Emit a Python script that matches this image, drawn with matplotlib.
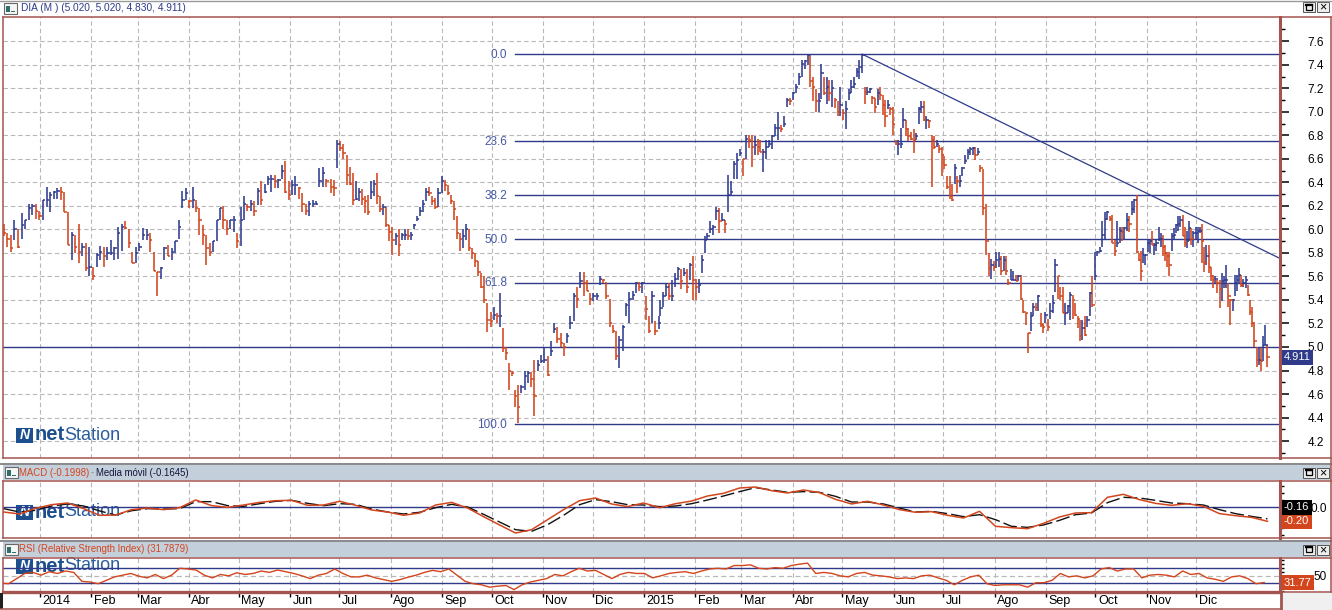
import numpy as np
import pandas as pd
import matplotlib
matplotlib.use("Agg")
import matplotlib.pyplot as plt
import matplotlib.dates as mdates
import matplotlib.transforms as mtransforms
from matplotlib.patches import Rectangle
from matplotlib.lines import Line2D

plt.rcParams['font.family'] = ['Liberation Sans', 'DejaVu Sans']

# ---------------------------------------------------------------- data
symbol = "DIA"
period = "M"
last_ohlc = (5.020, 5.020, 4.830, 4.911)

highs = [
    6.05,5.97,5.95,6.08,6.00,6.14,6.08,6.22,6.22,6.22, 6.16,6.25,6.36,6.32,6.33,6.35,6.36,6.32,6.15,5.98,
    5.95,6.05,5.88,5.88,5.85,5.68,5.80,5.86,5.85,5.85, 5.91,5.85,6.02,6.05,6.07,6.00,5.81,5.85,5.88,6.01,
    6.00,5.97,5.81,5.64,5.68,5.85,5.87,5.84,5.90,6.08, 6.33,6.35,6.25,6.36,6.25,6.18,6.04,5.95,5.88,5.90,
    6.08,6.18,6.20,6.08,6.08,6.11,5.97,6.19,6.28,6.22, 6.25,6.24,6.35,6.41,6.39,6.45,6.46,6.46,6.43,6.55,
    6.58,6.41,6.42,6.45,6.36,6.31,6.22,6.24,6.25,6.24, 6.52,6.53,6.43,
    6.43,6.42,6.76,6.75,6.73,6.63,6.53,6.48,6.41,6.35, 6.34,6.28,6.29,6.41,6.42,6.48,6.28,6.22,6.19,6.04,
    6.02,5.97,6.00,5.97,6.00,6.00,5.98,6.05,6.11,6.19, 6.25,6.35,6.36,6.28,6.27,6.35,6.45,6.42,6.38,6.29,
    6.24,6.11,5.97,6.00,6.05,6.00,5.84,5.80,5.73,5.63, 5.60,5.37,5.30,5.34,5.29,5.46,5.16,5.00,4.86,4.80,
    4.63,4.68,4.68,4.80,4.80,4.79,4.89,4.89,4.93,5.00, 4.92,5.05,5.20,5.17,5.12,5.03,5.12,5.26,5.46,5.51,
    5.64,5.64,5.57,5.46,5.46,5.46,5.60,5.58,5.55,5.41, 5.19,5.14,5.09,5.19,5.37,5.47,5.48,5.55,5.55,5.55,
    5.43,5.26,5.48,5.22,5.26,
    5.40,5.47,5.54,5.54,5.57,5.63,5.68,5.66,5.67,5.66, 5.71,5.77,5.58,5.58,5.78,5.94,5.97,6.07,6.04,6.19,
    6.18,6.14,6.08,6.46,6.41,6.58,6.65,6.68,6.60,6.80, 6.80,6.80,6.79,6.77,6.76,6.68,6.76,6.76,6.80,6.90,
    7.00,6.89,6.96,7.12,7.12,7.17,7.24,7.33,7.44,7.44, 7.48,7.48,7.30,7.19,7.16,7.41,7.30,7.30,7.27,7.27,
    7.12,7.09,7.21,7.02,7.09,7.19,7.27,7.30,7.37,7.44, 7.49,7.21,7.21,7.20,7.13,7.12,7.19,7.21,7.14,7.10,
    7.10,7.04,7.04,6.76,6.76,6.86,7.03,6.93,6.86,6.83, 6.85,6.82,7.04,7.09,7.09,6.96,6.93,6.80,6.79,6.76,
    6.72,6.70,6.62,6.45,6.45,6.39,6.56,6.45,6.46,6.53, 6.63,6.68,6.70,6.70,6.70,6.69,6.55,6.51,
    6.22,5.80,5.75,5.73,5.81,5.81,5.77,5.77,5.77,5.58, 5.66,5.65,5.61,5.61,5.61,5.40,5.29,5.12,5.30,5.37,
    5.37,5.44,5.29,5.20,5.30,5.24,5.37,5.44,5.75,5.60, 5.51,5.51,5.37,5.36,5.47,5.44,5.37,5.26,5.23,5.23,
    5.26,5.26,5.47,5.60,5.81,5.82,5.85,6.07,6.15,6.16, 6.11,6.12,5.91,6.07,6.02,6.02,6.02,6.14,6.11,6.24,
    6.26,6.29,5.80,5.82,5.84,5.78,5.91,5.91,5.99,5.88, 5.92,6.02,5.97,5.95,5.87,5.81,5.81,5.97,6.01,6.05,
    6.11,6.11,6.12,6.02,5.99,6.07,6.01,5.99,6.02,6.02, 6.02,6.05,5.85,5.87,5.87,5.68,5.61,5.60,5.57,5.57,
    5.63,5.60,5.70,5.54,5.41,5.41,5.61,5.61,5.67,5.61, 5.58,5.60,5.53,5.40,5.34,5.20,5.00,5.00,4.99,5.09,
    5.19,5.02,
]
lows = [
    5.94,5.85,5.81,5.91,5.84,5.92,6.00,6.08,6.12,6.09, 6.08,6.08,6.19,6.15,6.26,6.26,6.25,6.15,5.87,5.74,
    5.80,5.71,5.77,5.65,5.60,5.57,5.68,5.74,5.68,5.74, 5.78,5.74,5.75,5.82,6.00,5.84,5.71,5.71,5.82,5.91,
    5.91,5.81,5.65,5.43,5.58,5.74,5.77,5.74,5.80,5.92, 6.18,6.25,6.18,6.18,6.15,5.95,5.87,5.70,5.77,5.81,
    5.90,6.08,6.00,5.95,6.00,5.98,5.84,5.86,6.08,6.16, 6.16,6.11,6.21,6.21,6.31,6.38,6.32,6.35,6.35,6.43,
    6.31,6.25,6.29,6.29,6.26,6.15,6.12,6.11,6.19,6.21, 6.36,6.36,6.36,
    6.31,6.28,6.52,6.67,6.60,6.38,6.38,6.21,6.25,6.24, 6.21,6.14,6.12,6.26,6.28,6.22,6.15,6.12,6.02,5.90,
    5.78,5.87,5.77,5.91,5.91,5.91,5.91,6.00,6.07,6.11, 6.15,6.24,6.28,6.21,6.17,6.19,6.31,6.33,6.29,6.22,
    6.08,5.92,5.82,5.84,5.91,5.82,5.75,5.68,5.60,5.50, 5.37,5.13,5.17,5.23,5.20,5.17,4.96,4.89,4.63,4.75,
    4.49,4.35,4.61,4.63,4.69,4.66,4.41,4.80,4.86,4.86, 4.75,4.92,5.12,5.03,5.00,4.92,5.03,5.15,5.22,5.33,
    5.50,5.43,5.48,5.36,5.39,5.40,5.53,5.54,5.41,5.17, 5.12,4.89,4.82,4.97,5.26,5.20,5.40,5.46,5.48,5.46,
    5.23,5.12,5.20,5.10,5.15,
    5.26,5.34,5.43,5.40,5.39,5.51,5.57,5.49,5.60,5.46, 5.57,5.40,5.40,5.46,5.63,5.80,5.91,5.97,5.95,6.08,
    5.97,6.07,5.97,6.15,6.29,6.43,6.43,6.62,6.45,6.60, 6.69,6.53,6.63,6.63,6.66,6.49,6.60,6.70,6.68,6.79,
    6.76,6.83,6.87,7.04,7.06,7.10,7.16,7.23,7.30,7.36, 7.40,7.21,7.09,7.00,7.00,7.11,7.14,7.07,7.09,7.04,
    7.03,6.96,6.96,6.93,6.85,7.10,7.16,7.20,7.30,7.28, 7.33,7.07,7.14,7.16,7.07,6.99,7.06,7.10,6.97,6.87,
    7.02,6.97,6.80,6.72,6.63,6.69,6.86,6.79,6.75,6.76, 6.65,6.76,6.90,6.99,6.92,6.85,6.86,6.36,6.68,6.70,
    6.65,6.45,6.51,6.34,6.26,6.24,6.39,6.31,6.36,6.45, 6.56,6.60,6.63,6.63,6.59,6.63,6.49,6.12,
    5.78,5.60,5.58,5.65,5.67,5.68,5.61,5.65,5.61,5.53, 5.57,5.57,5.56,5.56,5.40,5.29,5.19,4.95,5.14,5.26,
    5.31,5.31,5.17,5.12,5.20,5.14,5.24,5.29,5.47,5.41, 5.40,5.29,5.19,5.29,5.23,5.24,5.26,5.16,5.05,5.06,
    5.09,5.17,5.26,5.34,5.57,5.77,5.81,5.85,5.92,6.08, 6.07,5.88,5.77,5.85,5.88,5.90,5.92,5.99,5.98,6.12,
    6.14,5.80,5.73,5.56,5.71,5.70,5.81,5.80,5.87,5.78, 5.82,5.90,5.85,5.77,5.73,5.68,5.60,5.82,5.91,5.97,
    5.99,6.02,5.94,5.85,5.84,5.90,5.87,5.85,5.91,5.88, 5.97,5.71,5.64,5.70,5.63,5.56,5.50,5.54,5.46,5.33,
    5.39,5.50,5.50,5.34,5.19,5.31,5.43,5.48,5.54,5.51, 5.51,5.50,5.43,5.27,5.17,5.00,4.83,4.85,4.80,4.88,
    5.02,4.83,
]
closes = [
    5.97,5.92,5.84,6.00,5.85,6.04,6.08,6.18,6.20,6.16, 6.11,6.25,6.25,6.29,6.32,6.33,6.32,6.15,5.87,5.95,
    5.85,5.81,5.85,5.67,5.68,5.60,5.78,5.81,5.77,5.80, 5.80,5.84,5.97,6.02,6.01,5.88,5.71,5.80,5.85,5.95,
    5.95,5.91,5.65,5.64,5.67,5.84,5.77,5.81,5.90,6.02, 6.25,6.31,6.24,6.25,6.18,6.08,5.95,5.84,5.81,5.90,
    6.08,6.18,6.08,6.00,6.08,6.08,5.90,6.08,6.22,6.19, 6.22,6.16,6.33,6.25,6.32,6.43,6.43,6.41,6.42,6.50,
    6.32,6.29,6.38,6.38,6.35,6.22,6.16,6.22,6.22,6.22, 6.41,6.48,6.41,
    6.36,6.35,6.73,6.69,6.65,6.46,6.39,6.25,6.26,6.32, 6.26,6.24,6.15,6.32,6.39,6.28,6.17,6.19,6.04,5.98,
    5.91,5.94,5.87,5.95,5.95,5.94,5.95,6.04,6.09,6.16, 6.22,6.32,6.31,6.24,6.19,6.31,6.41,6.38,6.31,6.24,
    6.17,5.97,5.92,5.94,6.00,5.84,5.80,5.73,5.64,5.51, 5.40,5.23,5.22,5.27,5.26,5.26,4.99,4.95,4.80,4.78,
    4.58,4.49,4.66,4.75,4.78,4.73,4.58,4.85,4.88,4.89, 4.76,4.97,5.15,5.07,5.03,5.00,5.09,5.20,5.43,5.41,
    5.56,5.54,5.48,5.41,5.43,5.43,5.58,5.57,5.43,5.20, 5.14,4.92,5.06,5.17,5.36,5.41,5.44,5.54,5.51,5.54,
    5.32,5.14,5.43,5.14,5.20,
    5.33,5.43,5.51,5.43,5.43,5.58,5.66,5.56,5.63,5.51, 5.70,5.57,5.51,5.53,5.74,5.91,5.94,6.00,6.02,6.16,
    6.07,6.08,6.05,6.29,6.32,6.56,6.59,6.65,6.60,6.77, 6.76,6.70,6.72,6.70,6.66,6.66,6.70,6.73,6.79,6.86,
    6.86,6.85,6.90,7.10,7.09,7.16,7.21,7.30,7.41,7.43, 7.48,7.26,7.21,7.09,7.09,7.33,7.16,7.21,7.16,7.20,
    7.10,7.00,7.06,6.99,7.02,7.16,7.21,7.24,7.34,7.38, 7.48,7.17,7.17,7.19,7.12,7.04,7.16,7.14,7.06,6.96,
    7.06,7.02,6.90,6.73,6.73,6.73,6.93,6.85,6.79,6.77, 6.76,6.79,7.02,7.04,6.93,6.93,6.92,6.76,6.70,6.73,
    6.68,6.63,6.55,6.36,6.28,6.25,6.52,6.41,6.41,6.52, 6.58,6.66,6.68,6.69,6.63,6.66,6.52,6.18,
    5.90,5.67,5.70,5.68,5.74,5.75,5.65,5.74,5.65,5.54, 5.57,5.57,5.56,5.60,5.41,5.30,5.29,5.12,5.26,5.34,
    5.33,5.43,5.19,5.17,5.27,5.17,5.31,5.37,5.70,5.60, 5.43,5.29,5.29,5.35,5.44,5.40,5.27,5.24,5.09,5.16,
    5.10,5.23,5.46,5.36,5.60,5.81,5.82,5.95,6.09,6.15, 6.09,5.88,5.82,5.88,5.99,5.98,6.01,6.08,6.05,6.17,
    6.25,5.81,5.74,5.65,5.78,5.78,5.88,5.90,5.87,5.87, 5.88,5.92,5.92,5.85,5.80,5.77,5.70,5.94,5.95,6.04,
    6.05,6.08,5.94,5.88,5.90,6.01,5.92,5.97,5.97,5.99, 5.99,5.90,5.71,5.77,5.68,5.60,5.57,5.58,5.54,5.49,
    5.56,5.57,5.57,5.43,5.40,5.40,5.54,5.57,5.61,5.53, 5.54,5.57,5.44,5.30,5.20,5.05,4.89,4.89,4.88,5.02,
    5.02,4.911,
]
# dates of selected bars (bar index -> date); other bars lie evenly between them
anchor_index = [0, 50, 92, 93, 154, 197, 198, 248, 268, 315, 316, 377, 437]
anchor_dates = ['2013-12-10', '2014-03-28', '2014-06-23', '2014-06-26', '2014-10-17',
                '2015-01-10', '2015-01-11', '2015-04-10', '2015-05-13', '2015-07-25',
                '2015-07-27', '2015-10-26', '2016-01-13']

# Fibonacci retracement and drawn lines
fib_high = 7.49
fib_low = 4.345
fib_start = '2014-10-15'
fib_levels = [0.0, 23.6, 38.2, 50.0, 61.8, 100.0]
trend_dates = ['2015-05-13', '2016-01-20']
trend_values = [7.49, 5.757]
support_level = 5.0

# MACD (red) and its moving average (black)
macd_range = ('2013-12-10', '2016-01-13')
macd = [-0.067,-0.095,-0.014,0.038,0.062,-0.019,-0.114,-0.110,-0.033,-0.010,
        -0.033,-0.005,0.105,0.024,0.000,0.033,0.071,0.095,0.100,0.029,
        0.033,0.086,0.029,-0.038,-0.067,-0.114,-0.081,0.033,0.071,-0.010,
        -0.133,-0.252,-0.367,-0.319,-0.176,-0.033,0.095,0.133,0.048,0.010,
        0.062,-0.005,0.052,0.090,0.162,0.200,0.276,0.290,0.238,0.205,
        0.248,0.210,0.114,0.048,0.086,0.033,-0.033,-0.071,-0.062,-0.114,
        -0.152,-0.057,-0.271,-0.290,-0.305,-0.229,-0.138,-0.081,-0.076,0.143,
        0.186,0.110,0.057,0.029,0.052,0.014,-0.090,-0.119,-0.143,-0.1998]
signal = [-0.019,-0.067,-0.043,0.019,0.048,0.019,-0.052,-0.110,-0.048,-0.019,
          -0.024,-0.019,0.081,0.081,0.024,0.014,0.052,0.086,0.100,0.057,
          0.024,0.052,0.043,-0.024,-0.067,-0.095,-0.071,-0.005,0.043,0.005,
          -0.100,-0.210,-0.319,-0.343,-0.248,-0.114,0.038,0.110,0.081,0.038,
          0.033,0.010,0.019,0.052,0.105,0.162,0.224,0.281,0.248,0.214,
          0.224,0.214,0.157,0.076,0.076,0.048,-0.010,-0.067,-0.057,-0.090,
          -0.133,-0.105,-0.176,-0.271,-0.286,-0.252,-0.186,-0.105,-0.081,0.067,
          0.143,0.133,0.100,0.062,0.052,0.033,-0.033,-0.090,-0.129,-0.1645]

# RSI
rsi_range = ('2013-12-08', '2016-01-11')
rsi = [30.4,28.7,42.0,55.3,58.0,50.9,59.8,55.3,61.6,58.0,34.9,33.1,28.7,37.6,46.4,50.9,55.3,48.2,43.8,52.7,
       42.0,50.9,68.7,66.9,64.2,50.9,43.8,52.7,49.1,57.1,52.7,55.3,61.6,58.0,64.2,59.8,55.3,49.1,42.0,50.9,
       55.3,66.9,55.3,46.4,46.4,50.9,43.8,39.3,34.9,39.3,45.6,50.9,58.0,63.3,59.8,66.9,50.9,34.9,28.7,26.0,
       19.8,22.4,24.2,13.6,26.0,33.1,37.6,42.0,52.7,49.1,59.8,68.7,61.6,63.3,52.7,42.0,52.7,58.0,55.3,
       55.3,43.8,49.1,55.3,58.0,59.8,55.3,61.6,66.9,68.7,66.9,75.8,75.8,77.6,68.7,66.9,70.4,68.7,75.8,79.3,
       82.0,55.3,58.0,55.3,49.1,46.4,55.3,58.0,50.9,49.1,46.4,42.0,43.8,42.0,49.1,50.9,43.8,37.6,26.0,37.6,
       46.4,50.9,28.7,24.2,26.0,26.0,26.0,19.8,31.3,31.3,37.6,55.3,46.4,49.1,43.8,49.1,66.9,70.4,61.6,66.9,
       66.9,43.8,50.9,52.7,50.9,46.4,61.6,52.7,55.3,43.8,40.2,34.9,46.4,49.1,42.0,28.7,31.7879]
rsi_box_label = '31.77'
rsi_bands = (30, 50, 70)

month_names = ['Ene', 'Feb', 'Mar', 'Abr', 'May', 'Jun', 'Jul', 'Ago', 'Sep', 'Oct', 'Nov', 'Dic']

# ---------------------------------------------------------------- style
W, H = 1332, 610
BROWN = '#a4544f'
NAVY = '#2f3a8a'
BLUE = '#2f3b8e'
RED = '#d3451d'
GRID = '#b8b8b8'
HEAD = '#c3cfdb'
FIBTXT = '#4658a6'
LOGO = '#1d4f8f'

fig = plt.figure(figsize=(W / 100, H / 100), dpi=100)
fig.patch.set_facecolor('white')


def fx(x):
    return x / W


def fy(y):
    return 1 - y / H


def fbox(x0, y0, x1, y1):
    return [x0 / W, 1 - y1 / H, (x1 - x0) / W, (y1 - y0) / H]


def frect(x0, y0, x1, y1, **kw):
    r = Rectangle((fx(x0), fy(y1)), (x1 - x0) / W, (y1 - y0) / H,
                  transform=fig.transFigure, **kw)
    fig.add_artist(r)
    return r


def fline(x0, y0, x1, y1, **kw):
    ln = Line2D([fx(x0), fx(x1)], [fy(y0), fy(y1)], transform=fig.transFigure, **kw)
    fig.add_artist(ln)
    return ln


xlim = (mdates.date2num(pd.Timestamp('2013-12-09 14:00')),
        mdates.date2num(pd.Timestamp('2016-01-20 14:00')))
month_starts = pd.date_range('2014-01-01', '2015-12-01', freq='MS')
month_nums = mdates.date2num(month_starts)
month_labels = [str(d.year) if d.month == 1 else month_names[d.month - 1] for d in month_starts]

ax = fig.add_axes(fbox(3, 17, 1280, 458))
axm = fig.add_axes(fbox(3, 481, 1280, 538))
axr = fig.add_axes(fbox(3, 558, 1280, 592))

for a in (ax, axm, axr):
    for s in ('left', 'top', 'bottom'):
        a.spines[s].set_color(BROWN)
        a.spines[s].set_linewidth(1.1)
    a.spines['right'].set_color(BROWN)
    a.spines['right'].set_linewidth(2.2)
    a.set_xticks(month_nums)
    a.grid(True, axis='x', color=GRID, linestyle=(0, (4, 2.6)), linewidth=0.8)
    a.set_axisbelow(True)
    a.tick_params(axis='y', which='both', left=False, right=True,
                  labelleft=False, labelright=True, direction='out', colors='black')
axr.spines['bottom'].set_linewidth(2.4)

# ---------------------------------------------------------------- price panel
dn = np.interp(np.arange(len(closes)), anchor_index,
               mdates.date2num(pd.to_datetime(anchor_dates)))
c = np.array(closes)
h = np.array(highs)
lo = np.array(lows)
prev = np.r_[(h[0] + lo[0]) / 2 + 0.05, c[:-1]]
cols = np.where(c >= prev, BLUE, RED)
ax.vlines(dn, lo, h, colors=cols, linewidth=1.15, zorder=3)
ax.hlines(c, dn, dn + 1.4, colors=cols, linewidth=1.1, zorder=3)

ax.axhline(support_level, color=NAVY, linewidth=1.0, zorder=2)
fs = mdates.date2num(pd.Timestamp(fib_start))
for p in fib_levels:
    v = fib_high - p / 100.0 * (fib_high - fib_low)
    ax.plot([fs, xlim[1]], [v, v], color=NAVY, linewidth=1.0, zorder=2)
    ax.annotate(f'{p:.1f}', xy=(fs, v), xytext=(-5.5, -0.5), textcoords='offset points',
                ha='right', va='center', color=FIBTXT, fontsize=8.5)
ax.plot(mdates.date2num(pd.to_datetime(trend_dates)), trend_values,
        color=NAVY, linewidth=0.9, zorder=2)

ax.set_ylim(4.056, 7.806)
ax.set_yticks(np.round(np.arange(4.2, 7.61, 0.2), 1))
ax.set_yticks(np.round(np.arange(4.1, 7.71, 0.1), 1), minor=True)
ax.yaxis.set_major_formatter(matplotlib.ticker.FormatStrFormatter('%.1f'))
ax.grid(True, axis='y', which='major', color=GRID, linestyle=(0, (4, 2.6)), linewidth=0.8)
ax.tick_params(axis='y', which='major', length=6.5, width=1.1, labelsize=8.5, pad=13.5)
ax.tick_params(axis='y', which='minor', length=3.5, width=1.0)
ax.tick_params(axis='x', which='both', length=0, labelbottom=False)

t_main = mtransforms.blended_transform_factory(ax.transAxes, ax.transData)
ax.text(1.0, c[-1], f'{c[-1]:.3f}', transform=mtransforms.offset_copy(t_main, fig=fig, x=4, y=0, units='dots'),
        ha='left', va='center', color='white', fontsize=8, clip_on=False, zorder=6,
        bbox=dict(boxstyle='square,pad=0.22', fc=NAVY, ec='none'))

# ---------------------------------------------------------------- MACD panel
md = np.linspace(*mdates.date2num(pd.to_datetime(list(macd_range))), len(macd))
axm.axhline(0.0, color=NAVY, linewidth=1.0, zorder=2)
axm.plot(md, signal, color='#111111', linewidth=1.0, dashes=(10, 3), zorder=3)
axm.plot(md, macd, color=RED, linewidth=1.1, zorder=4)
axm.set_ylim(-0.438, 0.376)
axm.set_yticks([0.0])
axm.set_yticks(np.round(np.arange(-0.4, 0.36, 0.1), 1), minor=True)
axm.yaxis.set_major_formatter(matplotlib.ticker.FormatStrFormatter('%.1f'))
axm.tick_params(axis='y', which='major', length=3, width=1.0, labelsize=8.5, pad=19)
axm.tick_params(axis='y', which='minor', length=3, width=1.0)
axm.tick_params(axis='x', which='both', length=0, labelbottom=False)
t_m = mtransforms.blended_transform_factory(axm.transAxes, axm.transData)
axm.text(1.0, macd[-1], f'{macd[-1]:.2f}', transform=mtransforms.offset_copy(t_m, fig=fig, x=4, y=0, units='dots'),
         ha='left', va='center', color='white', fontsize=8, clip_on=False, zorder=6,
         bbox=dict(boxstyle='square,pad=0.22', fc=RED, ec='none'))
axm.text(1.0, macd[-1], f'{signal[-1]:.2f}', transform=mtransforms.offset_copy(t_m, fig=fig, x=4, y=14, units='dots'),
         ha='left', va='center', color='white', fontsize=8, clip_on=False, zorder=6,
         bbox=dict(boxstyle='square,pad=0.22', fc='black', ec='none'))

# ---------------------------------------------------------------- RSI panel
rd = np.linspace(*mdates.date2num(pd.to_datetime(list(rsi_range))), len(rsi))
axr.axhline(rsi_bands[0], color=NAVY, linewidth=1.0, zorder=2)
axr.axhline(rsi_bands[2], color=NAVY, linewidth=1.0, zorder=2)
axr.axhline(rsi_bands[1], color=GRID, linewidth=0.9, linestyle=(0, (4, 2.6)), zorder=1)
axr.plot(rd, rsi, color=RED, linewidth=1.0, zorder=4)
axr.set_ylim(7.3, 95.3)
axr.set_yticks([50])
axr.set_yticks(np.arange(10, 91, 10), minor=True)
axr.tick_params(axis='y', which='major', length=3, width=1.0, labelsize=8.5, pad=21)
axr.tick_params(axis='y', which='minor', length=3, width=1.0)
t_r = mtransforms.blended_transform_factory(axr.transAxes, axr.transData)
axr.text(1.0, rsi[-1], rsi_box_label, transform=mtransforms.offset_copy(t_r, fig=fig, x=4, y=0, units='dots'),
         ha='left', va='center', color='white', fontsize=8, clip_on=False, zorder=6,
         bbox=dict(boxstyle='square,pad=0.22', fc=RED, ec='none'))

axr.tick_params(axis='x', which='major', direction='out', length=3.5, width=1.0,
                color='black', labelsize=9, pad=-1.5, labelcolor='black')
axr.set_xticklabels(month_labels, ha='left')
offset = mtransforms.ScaledTranslation(2.5 / 100, 0, fig.dpi_scale_trans)
for lbl in axr.get_xticklabels():
    lbl.set_transform(lbl.get_transform() + offset)

for a in (ax, axm, axr):
    a.set_xlim(xlim)

# ---------------------------------------------------------------- watermark logos


def logo(a, yc):
    tr = fig.transFigure
    r = Rectangle((fx(16), fy(yc + 7.5)), 17 / W, 15 / H, transform=tr, fc=LOGO, ec='none', zorder=1)
    a.add_artist(r)
    a.text(fx(24.5), fy(yc), 'N', transform=tr, ha='center', va='center', color='white',
           fontsize=10, fontweight='bold', fontstyle='italic', zorder=1)
    a.text(fx(35), fy(yc), 'net', transform=tr, ha='left', va='center', color=LOGO,
           fontsize=14.5, fontweight='bold', zorder=1)
    a.text(fx(64), fy(yc), 'Station', transform=tr, ha='left', va='center', color='#2a5d9c',
           fontsize=13, zorder=1)


logo(ax, 435)
logo(axm, 512)
logo(axr, 566)

# ---------------------------------------------------------------- window decoration


def header_icon(x, y):
    frect(x, y, x + 13, y + 11, fc='#f6f6f6', ec='#6a6a6a', lw=0.8)
    frect(x + 2, y + 3, x + 6, y + 9, fc='#2f6f6a', ec='none')
    frect(x + 7, y + 7.5, x + 11, y + 9, fc='#2f6f6a', ec='none')


def buttons(yc):
    frect(1303, yc - 5, 1315, yc + 5, fc='#ededed', ec='#555555', lw=0.7)
    frect(1317, yc - 5, 1329, yc + 5, fc='#ededed', ec='#555555', lw=0.7)
    frect(1306, yc - 2.5, 1312, yc + 2.5, fc='none', ec='black', lw=0.9)
    fline(1306, yc - 2.3, 1312, yc - 2.3, color='black', lw=1.6)
    fig.text(fx(1323), fy(yc + 0.5), '\u00d7', ha='center', va='center', fontsize=9, color='black')


# title bar
fline(0, 0.5, W, 0.5, color='#9a9a9a', lw=1.0)
header_icon(4, 3)
fig.text(fx(21), fy(8), f'{symbol} ({period} ) ({last_ohlc[0]:.3f}, {last_ohlc[1]:.3f}, '
         f'{last_ohlc[2]:.3f}, {last_ohlc[3]:.3f})', ha='left', va='center',
         color='#2d3a8a', fontsize=7.3)
buttons(7)

# right-hand axis area frames
for (y0, y1) in ((17, 458), (481, 538), (558, 592)):
    fline(1280, y0, 1331, y0, color=BROWN, lw=1.1)
    fline(1280, y1, 1331, y1, color=BROWN, lw=1.1)
fline(1330.5, 17, 1330.5, 592, color=BROWN, lw=1.1)

# separators and panel headers
frect(0, 462.5, W, 465, fc='#8c8c8c', ec='none')
frect(3, 465, 1331, 480, fc=HEAD, ec='none')
frect(0, 539.5, W, 542, fc='#8c8c8c', ec='none')
frect(3, 542, 1331, 557, fc=HEAD, ec='none')
header_icon(5, 467)
header_icon(5, 544)
fig.text(fx(19), fy(472.5), f'MACD ({macd[-1]:.4f})', ha='left', va='center', color=RED, fontsize=6.9)
fig.text(fx(90.5), fy(472.5), '-', ha='left', va='center', color='#888888', fontsize=6.9)
fig.text(fx(96), fy(472.5), f'Media m\u00f3vil ({signal[-1]:.4f})', ha='left', va='center',
         color='#14143c', fontsize=6.9)
fig.text(fx(19), fy(549.5), f'RSI (Relative Strength Index) ({rsi[-1]:.4f})', ha='left',
         va='center', color=RED, fontsize=6.9)
buttons(472.5)
buttons(549.5)

# time-axis band
frect(1281.5, 593, 1332, 610, fc='#f0f0f0', ec='none')
fline(0, 608.5, 1281, 608.5, color=BROWN, lw=1.1)
fline(1280.5, 592, 1280.5, 609, color=BROWN, lw=2.0)
frect(0, 593, 2.5, 609, fc='#202020', ec='none')

fig.savefig('out.png', dpi=100, facecolor='white')
